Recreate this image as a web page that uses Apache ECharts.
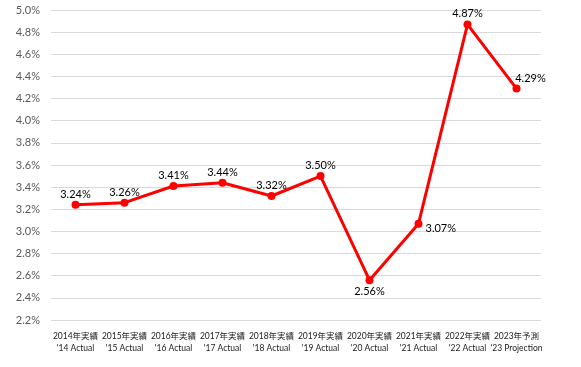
<!DOCTYPE html>
<html><head><meta charset="utf-8">
<script src="https://cdn.jsdelivr.net/npm/echarts@6/dist/echarts.min.js"></script>
<style>html,body{margin:0;padding:0;background:#fff}#c{width:581px;height:367px}</style>
</head><body><div id="c"></div>
<script>
const categoriesJa = ['2014年実績','2015年実績','2016年実績','2017年実績','2018年実績','2019年実績','2020年実績','2021年実績','2022年実績','2023年予測'];
const categoriesEn = ["'14 Actual","'15 Actual","'16 Actual","'17 Actual","'18 Actual","'19 Actual","'20 Actual","'21 Actual","'22 Actual","'23 Projection"];
const rates = [3.24, 3.26, 3.41, 3.44, 3.32, 3.50, 2.56, 3.07, 4.87, 4.29];
const labelPlacement = ['top','top','top','top','top','top','bottom','right','top','topright'];

const cats = categoriesJa.map((j,i)=>j+'\n'+categoriesEn[i]);
const data = rates.map((v,i)=>{
  const p = labelPlacement[i];
  let label;
  if (p==='top') label = {position:'top', distance:1};
  else if (p==='bottom') label = {position:'bottom', distance:2};
  else if (p==='right') label = {position:'right', distance:3, offset:[0,5]};
  else label = {position:'top', distance:1, offset:[14,0]};
  return {value:v, label};
});
const chart = echarts.init(document.getElementById('c'));
chart.setOption({
  animation:false,
  grid:{left:51,right:40,top:10,bottom:47},
  xAxis:{type:'category',data:cats,boundaryGap:true,
    axisLine:{show:false},axisTick:{show:false},
    axisLabel:{interval:0,color:'#222',fontSize:8.5,lineHeight:12,margin:10,fontFamily:'Lato, "Noto Sans CJK JP", sans-serif'}},
  yAxis:{type:'value',min:2.2,max:5.0,interval:0.2,
    axisLine:{show:false},axisTick:{show:false},
    axisLabel:{formatter:v=>v.toFixed(1)+'%',color:'#595959',fontSize:11,margin:11,fontFamily:'Lato, sans-serif'},
    splitLine:{lineStyle:{color:'#d9d9d9',width:1}}},
  series:[{type:'line',data:data,symbol:'circle',symbolSize:8,
    lineStyle:{color:'#ff0000',width:3},itemStyle:{color:'#ff0000'},
    label:{show:true,formatter:p=>p.value.toFixed(2)+'%',color:'#000',fontSize:11,fontFamily:'Lato, sans-serif'}}]
});
</script></body></html>
